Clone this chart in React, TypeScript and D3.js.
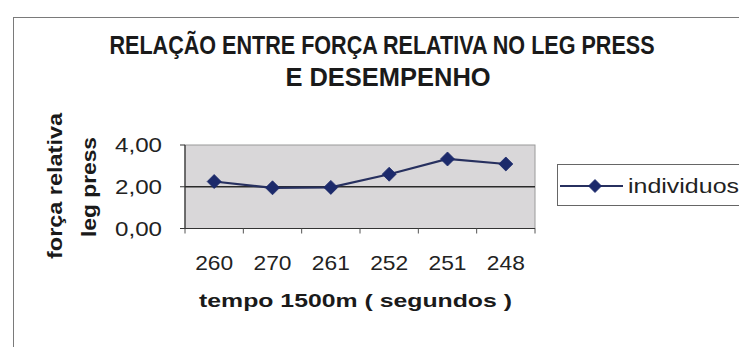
import React from "react";
import * as d3 from "d3";

// Tempo nos 1500 m (segundos) de cada indivíduo, na ordem do eixo
const categories = ["260", "270", "261", "252", "251", "248"];
// Força relativa no leg press
const values = [2.25, 1.95, 1.97, 2.6, 3.33, 3.09];
const yTicks = [0, 2, 4];
const seriesName = "individuos";
const titleLines = ["RELAÇÃO ENTRE FORÇA RELATIVA NO LEG PRESS", "E DESEMPENHO"];
const xTitle = "tempo 1500m ( segundos )";
const yTitleLines = ["força relativa", "leg press"];

const W = 739;
const H = 347;
const plot = { left: 185, right: 535, top: 145, bottom: 228.5 };
const navy = "#1c2a6b";

const fmt = (v: number) => v.toFixed(2).replace(".", ",");

function Diamond({ x, y, r }: { x: number; y: number; r: number }) {
  return (
    <path
      d={`M${x},${y - r}L${x + r},${y}L${x},${y + r}L${x - r},${y}Z`}
      fill={navy}
      stroke={navy}
      strokeWidth={0.8}
    />
  );
}

export default function App() {
  const x = d3
    .scaleBand<string>()
    .domain(categories)
    .range([plot.left, plot.right])
    .padding(0);
  const y = d3.scaleLinear().domain([0, 4]).range([plot.bottom, plot.top]);

  const line = d3
    .line<number>()
    .x((_, i) => (x(categories[i]) as number) + x.bandwidth() / 2)
    .y((d) => y(d));

  const boundaries = [...categories.map((c) => x(c) as number), plot.right];
  const font = "Arial, 'Liberation Sans', Helvetica, sans-serif";

  return (
    <svg
      width={W}
      height={H}
      style={{ position: "absolute", left: 0, top: 0, background: "#fff" }}
      fontFamily={font}
    >
      {/* chart frame */}
      <rect x={13.5} y={17.5} width={W} height={H} fill="#fff" stroke="#7a7a7a" strokeWidth={1} />

      {/* title, set in a condensed bold face */}
      <text
        transform="translate(382,54) scale(0.83,1)"
        textAnchor="middle"
        fontSize={26}
        fontWeight="bold"
        fill="#1a1a1a"
      >
        {titleLines[0]}
      </text>
      <text
        transform="translate(388,86) scale(0.98,1)"
        textAnchor="middle"
        fontSize={26}
        fontWeight="bold"
        fill="#1a1a1a"
      >
        {titleLines[1]}
      </text>

      {/* plot area */}
      <rect
        x={plot.left}
        y={plot.top}
        width={plot.right - plot.left}
        height={plot.bottom - plot.top}
        fill="#d9d7d9"
        stroke="#9a9a9a"
        strokeWidth={1}
      />
      {/* gridline at 2,00 */}
      <line x1={plot.left} x2={plot.right} y1={y(2)} y2={y(2)} stroke="#2a2a2a" strokeWidth={1.5} />

      {/* axes */}
      <line x1={plot.left} x2={plot.left} y1={plot.top} y2={plot.bottom} stroke="#333" strokeWidth={1.2} />
      <line x1={plot.left} x2={plot.right} y1={plot.bottom} y2={plot.bottom} stroke="#333" strokeWidth={1.2} />
      {yTicks.map((t) => (
        <g key={t}>
          <line x1={plot.left - 5} x2={plot.left} y1={y(t)} y2={y(t)} stroke="#333" strokeWidth={1} />
          <text
            x={162}
            y={y(t) + 7}
            textAnchor="end"
            fontSize={20}
            fill="#222"
            textLength={47}
            lengthAdjust="spacingAndGlyphs"
          >
            {fmt(t)}
          </text>
        </g>
      ))}
      {boundaries.map((b, i) => (
        <line key={i} x1={b} x2={b} y1={plot.bottom} y2={plot.bottom + 5} stroke="#555" strokeWidth={1} />
      ))}
      {categories.map((c) => (
        <text
          key={c}
          x={(x(c) as number) + x.bandwidth() / 2}
          y={270}
          textAnchor="middle"
          fontSize={21}
          fill="#222"
          textLength={38}
          lengthAdjust="spacingAndGlyphs"
        >
          {c}
        </text>
      ))}

      {/* series */}
      <path d={line(values) ?? ""} fill="none" stroke="#27305f" strokeWidth={2.2} />
      {values.map((v, i) => (
        <Diamond key={i} x={(x(categories[i]) as number) + x.bandwidth() / 2} y={y(v)} r={7} />
      ))}

      {/* axis titles */}
      <text
        x={355.5}
        y={307}
        textAnchor="middle"
        fontSize={19}
        fontWeight="bold"
        fill="#1a1a1a"
        textLength={313}
        lengthAdjust="spacingAndGlyphs"
      >
        {xTitle}
      </text>
      <text
        transform={`translate(62,186) rotate(-90)`}
        textAnchor="middle"
        fontSize={20}
        fontWeight="bold"
        fill="#1a1a1a"
        textLength={146}
        lengthAdjust="spacingAndGlyphs"
      >
        {yTitleLines[0]}
      </text>
      <text
        transform={`translate(96,187) rotate(-90)`}
        textAnchor="middle"
        fontSize={20}
        fontWeight="bold"
        fill="#1a1a1a"
        textLength={100}
        lengthAdjust="spacingAndGlyphs"
      >
        {yTitleLines[1]}
      </text>

      {/* legend */}
      <rect x={557.5} y={164.5} width={200} height={41} fill="#fff" stroke="#666" strokeWidth={1} />
      <line x1={560} x2={623} y1={186} y2={186} stroke="#27305f" strokeWidth={2} />
      <Diamond x={595} y={186} r={6.5} />
      <text
        x={628}
        y={193}
        fontSize={21}
        fill="#222"
        textLength={111}
        lengthAdjust="spacingAndGlyphs"
      >
        {seriesName}
      </text>
    </svg>
  );
}
